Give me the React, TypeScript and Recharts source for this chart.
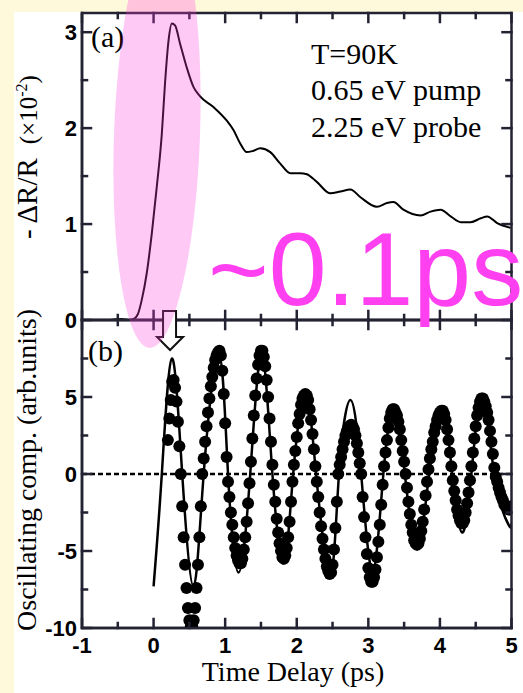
import { LineChart, ComposedChart, Line, Scatter, XAxis, YAxis, ReferenceLine } from 'recharts'

// axis ticks
const xTicks = [-1, -0.5, 0, 0.5, 1, 1.5, 2, 2.5, 3, 3.5, 4, 4.5, 5]
const xMajor = [-1, 0, 1, 2, 3, 4, 5]
const aTicks = [0, 0.5, 1, 1.5, 2, 2.5, 3]
const aMajor = [0, 1, 2, 3]
const bTicks = [-10, -7.5, -5, -2.5, 0, 2.5, 5, 7.5]
const bMajor = [-10, -5, 0, 5]

// (a) reflectivity change, units of 1e-2
const reflTime = [
  -0.6, -0.45, -0.35, -0.28, -0.22, -0.165, -0.095, -0.025, 0.045, 0.115, 0.16, 0.21, 0.255, 0.3, 0.37,
  0.46, 0.557, 0.65, 0.836, 1.02, 1.116, 1.21, 1.3, 1.38, 1.49, 1.63, 1.77, 1.91, 2.05, 2.14, 2.28, 2.47,
  2.61, 2.75, 2.89, 3.12, 3.26, 3.35, 3.49, 3.73, 3.87, 4.01, 4.15, 4.29, 4.43, 4.57, 4.66, 4.8, 4.99,
]
const reflValue = [
  0, 0.01, 0.0, 0.01, 0.06, 0.21, 0.49, 0.9, 1.39, 1.94, 2.47, 2.92, 3.09, 3.07, 2.88,
  2.64, 2.43, 2.33, 2.22, 2.08, 1.98, 1.84, 1.75, 1.76, 1.79, 1.75, 1.63, 1.53, 1.53, 1.52, 1.44, 1.32,
  1.34, 1.36, 1.28, 1.18, 1.22, 1.23, 1.15, 1.09, 1.13, 1.15, 1.08, 1.02, 1.02, 1.06, 1.08, 1.01, 0.96,
]

// (b) fitted oscillation
const fitTime = [
  0, 0.115, 0.255, 0.4, 0.557, 0.7, 0.91, 1.04, 1.186, 1.35, 1.51, 1.66, 1.82, 1.95, 2.12, 2.27, 2.47,
  2.59, 2.75, 2.9, 3.06, 3.21, 3.36, 3.51, 3.68, 3.85, 4.04, 4.17, 4.31, 4.44, 4.59, 4.76, 4.96, 5.0,
]
const fitValue = [
  -7.3, 0, 7.5, 0, -7.3, 0, 7.8, 0, -6.4, 0, 7.8, 0, -5.8, 0, 5.3, 0, -6.5,
  0, 4.8, 0, -6.3, 0, 4.3, 0, -4.9, 0, 4.3, 0, -3.8, 0, 5.1, 0, -3.3, -3.2,
]

// (b) measured oscillating component, sampled every 20 fs from 0.20 ps
const dotStart = 0.2
const dotStep = 0.02
const dotValue = [
  2.2, 3.6, 4.8, 6.0, 6.1, 5.6, 4.7, 3.4, 1.8, 0.0,
  -2.1, -4.1, -5.9, -7.4, -8.7, -9.5, -9.9, -9.9, -9.5, -8.7,
  -7.4, -5.9, -4.1, -2.1, 0.0, 1.0, 2.1, 3.1, 4.0, 4.9,
  5.7, 6.3, 6.9, 7.4, 7.7, 7.9, 8.0, 7.7, 6.7, 5.2,
  3.3, 1.1, -0.5, -1.5, -2.5, -3.3, -4.1, -4.8, -5.3, -5.6,
  -5.8, -5.8, -5.5, -4.9, -4.1, -3.1, -1.9, -0.6, 0.8, 2.3,
  3.8, 5.1, 6.2, 7.1, 7.7, 8.0, 8.0, 7.6, 7.0, 6.1,
  5.0, 3.6, 2.1, 0.6, -0.7, -1.8, -2.9, -3.8, -4.5, -5.0,
  -5.4, -5.5, -5.3, -4.8, -4.1, -3.1, -1.8, -0.5, 0.6, 1.5,
  2.4, 3.3, 3.9, 4.5, 4.9, 5.1, 5.2, 5.1, 4.8, 4.2,
  3.5, 2.6, 1.6, 0.5, -0.5, -1.5, -2.5, -3.4, -4.2, -4.9,
  -5.5, -6.0, -6.3, -6.5, -6.4, -5.9, -4.9, -3.5, -1.8, 0.0,
  0.6, 1.1, 1.6, 2.1, 2.5, 2.8, 3.0, 3.1, 3.2, 3.1,
  2.9, 2.5, 2.0, 1.4, 0.7, 0.0, -1.5, -2.8, -4.1, -5.2,
  -6.1, -6.7, -7.0, -7.0, -6.7, -6.2, -5.4, -4.4, -3.3, -2.0,
  -0.7, 0.5, 1.4, 2.2, 3.0, 3.6, 4.0, 4.2, 4.2, 4.0,
  3.8, 3.4, 2.9, 2.2, 1.5, 0.8, 0.0, -0.9, -1.8, -2.6,
  -3.3, -3.8, -4.3, -4.5, -4.6, -4.5, -4.2, -3.7, -3.1, -2.3,
  -1.4, -0.5, 0.3, 1.0, 1.6, 2.1, 2.7, 3.1, 3.5, 3.8,
  4.0, 4.1, 4.1, 3.9, 3.5, 2.9, 2.2, 1.4, 0.5, -0.4,
  -1.1, -1.7, -2.3, -2.7, -3.0, -3.2, -3.2, -3.0, -2.5, -1.9,
  -1.2, -0.4, 0.5, 1.4, 2.3, 3.1, 3.8, 4.3, 4.7, 4.9,
  4.9, 4.7, 4.4, 4.0, 3.5, 2.8, 2.1, 1.3, 0.4, -0.2,
  -0.5, -0.9, -1.2, -1.5, -1.7, -2.0, -2.1, -2.2, -2.3, -2.3,
  -2.1,
]

const reflData = reflTime.map((t, i) => ({ t, v: reflValue[i] }))
const fitData = fitTime.map((t, i) => ({ t, v: fitValue[i] }))
const dotData = dotValue.map((v, i) => ({ t: +(dotStart + i * dotStep).toFixed(2), v }))

const W = 523
const H = 693
const PLOT_LEFT = 82
const PLOT_RIGHT = 511.5
const A_TOP = 13
const SPLIT = 320
const B_BOTTOM = 628
const A_DOMAIN = [0, 3.2]
const B_DOMAIN = [-10, 10]

const SANS = "'Liberation Sans', Arial, sans-serif"
const SERIF = "'Liberation Serif', 'Times New Roman', serif"
const INK = '#000000'
const FRAME_INK = '#222233'
const LW = 2.5

// same linear maps as the chart axes, used for the frame and annotations
const xPx = (t: number) => PLOT_LEFT + ((t + 1) / 6) * (PLOT_RIGHT - PLOT_LEFT)
const yA = (v: number) => SPLIT - ((v - A_DOMAIN[0]) / (A_DOMAIN[1] - A_DOMAIN[0])) * (SPLIT - A_TOP)
const yB = (v: number) => B_BOTTOM - ((v - B_DOMAIN[0]) / (B_DOMAIN[1] - B_DOMAIN[0])) * (B_BOTTOM - SPLIT)

function xLabel(props: any) {
  const v = Number(props.payload.value)
  if (!xMajor.includes(v)) return <g />
  return (
    <text x={Number(props.x)} y={Number(props.y) + 25} textAnchor="middle" fontFamily={SANS} fontWeight="bold" fontSize={22} fill={INK}>
      {String(v)}
    </text>
  )
}

function yLabel(major: number[]) {
  return (props: any) => {
    const v = Number(props.payload.value)
    if (!major.includes(v)) return <g />
    return (
      <text x={Number(props.x) - 5} y={Number(props.y) + 8} textAnchor="end" fontFamily={SANS} fontWeight="bold" fontSize={22} fill={INK}>
        {String(v)}
      </text>
    )
  }
}

// axes take 1px so they still render; margins put the plot edges in place
const common = {
  type: 'number' as const,
  allowDataOverflow: true,
  interval: 0 as const,
  tickSize: 0,
  tickMargin: 0,
  tickLine: false,
  axisLine: { stroke: FRAME_INK, strokeWidth: LW },
}

function PanelA() {
  return (
    <LineChart
      width={W}
      height={H}
      data={reflData}
      margin={{ top: A_TOP, right: W - PLOT_RIGHT, bottom: H - SPLIT - 1, left: PLOT_LEFT - 1 }}
    >
      <XAxis xAxisId="b" dataKey="t" domain={[-1, 5]} height={1} ticks={xTicks} {...common} tick={false} />
      <YAxis yAxisId="l" domain={A_DOMAIN} width={1} ticks={aTicks} {...common} tick={yLabel(aMajor)} />
      <Line
        xAxisId="b"
        yAxisId="l"
        type="monotone"
        dataKey="v"
        stroke={INK}
        strokeWidth={2}
        dot={false}
        isAnimationActive={false}
      />
    </LineChart>
  )
}

function PanelB() {
  return (
    <ComposedChart
      width={W}
      height={H}
      margin={{ top: SPLIT, right: W - PLOT_RIGHT, bottom: H - B_BOTTOM - 1, left: PLOT_LEFT - 1 }}
    >
      <XAxis xAxisId="b" dataKey="t" domain={[-1, 5]} height={1} ticks={xTicks} {...common} tick={xLabel} />
      <YAxis yAxisId="l" domain={B_DOMAIN} width={1} ticks={bTicks} {...common} tick={yLabel(bMajor)} />
      <ReferenceLine xAxisId="b" yAxisId="l" y={0} stroke={INK} strokeWidth={2.5} strokeDasharray="5 3" />
      <Line
        xAxisId="b"
        yAxisId="l"
        data={fitData}
        type="natural"
        dataKey="v"
        stroke={INK}
        strokeWidth={2.5}
        dot={false}
        isAnimationActive={false}
      />
      <Scatter
        xAxisId="b"
        yAxisId="l"
        data={dotData}
        dataKey="v"
        fill={INK}
        shape={(p: any) => <circle cx={p.cx} cy={p.cy} r={6} fill={INK} />}
        isAnimationActive={false}
      />
    </ComposedChart>
  )
}

// box frames with inward ticks on all four sides of both panels
function Frames() {
  const marks: any[] = []
  const panels = [
    { top: A_TOP, bottom: SPLIT, ticks: aTicks, major: aMajor, y: yA },
    { top: SPLIT, bottom: B_BOTTOM, ticks: bTicks, major: bMajor, y: yB },
  ]
  panels.forEach((p, pi) => {
    xTicks.forEach((t, ti) => {
      const x = xPx(t)
      const len = xMajor.includes(t) ? 9 : 5
      marks.push(<line key={`xb-${pi}-${ti}`} x1={x} y1={p.bottom} x2={x} y2={p.bottom - len} />)
      marks.push(<line key={`xt-${pi}-${ti}`} x1={x} y1={p.top} x2={x} y2={p.top + len} />)
    })
    p.ticks.forEach((v, vi) => {
      const y = p.y(v)
      const len = p.major.includes(v) ? 9 : 5
      marks.push(<line key={`yl-${pi}-${vi}`} x1={PLOT_LEFT} y1={y} x2={PLOT_LEFT + len} y2={y} />)
      marks.push(<line key={`yr-${pi}-${vi}`} x1={PLOT_RIGHT} y1={y} x2={PLOT_RIGHT - len} y2={y} />)
    })
    marks.push(
      <rect key={`box-${pi}`} x={PLOT_LEFT} y={p.top} width={PLOT_RIGHT - PLOT_LEFT} height={p.bottom - p.top} fill="none" />,
    )
  })
  return (
    <g stroke={FRAME_INK} strokeWidth={LW} strokeLinecap="square">
      {marks}
    </g>
  )
}

function Notes() {
  const ax = xPx(0.23)
  return (
    <svg width={W} height={H} style={{ position: 'absolute', left: 0, top: 0, pointerEvents: 'none' }}>
      <Frames />
      <g fontFamily={SERIF} fill={INK}>
        <text x={91} y={47} fontSize={30}>(a)</text>
        <text x={88} y={361} fontSize={30}>(b)</text>
        <text x={311} y={64} fontSize={30}>T=90K</text>
        <text x={311} y={100} fontSize={30}>0.65 eV pump</text>
        <text x={311} y={137} fontSize={30}>2.25 eV probe</text>
        <text x={293} y={681} fontSize={28} textAnchor="middle">Time Delay (ps)</text>
        <text x={36} y={470} fontSize={28} textAnchor="middle" transform="rotate(-90 36 470)">
          Oscillating comp. (arb.units)
        </text>
        <text x={37} y={157} fontSize={29} textAnchor="middle" transform="rotate(-90 37 157)">
          <tspan>- ΔR/R</tspan>
          <tspan dx={14} fontSize={25}>(×10</tspan>
          <tspan dy={-10} fontSize={16}>-2</tspan>
          <tspan dy={10} fontSize={25}>)</tspan>
        </text>
      </g>
      <path
        d={`M${ax - 7},311 H${ax + 6} V337 H${ax + 13} L${ax},350 L${ax - 13},337 H${ax - 7} Z`}
        fill="#fff"
        stroke="#111"
        strokeWidth={2}
      />
      <ellipse cx={157} cy={135} rx={43} ry={213} transform="rotate(2 157 135)" fill="#FF3CDC" fillOpacity={0.28} />
      <text x={208} y={305} fontFamily={SANS} fontSize={104} fill="#FF40F0">
        ~0.1ps
      </text>
    </svg>
  )
}

export default function App() {
  return (
    <div style={{ position: 'absolute', left: 0, top: 0, width: W, height: H, background: '#FFF9DC', overflow: 'hidden' }}>
      <div style={{ position: 'absolute', left: 14, top: 12, right: 0, bottom: 0, background: '#fff' }} />
      <div style={{ position: 'absolute', left: 0, top: 0 }}>
        <PanelA />
      </div>
      <div style={{ position: 'absolute', left: 0, top: 0 }}>
        <PanelB />
      </div>
      <Notes />
    </div>
  )
}
